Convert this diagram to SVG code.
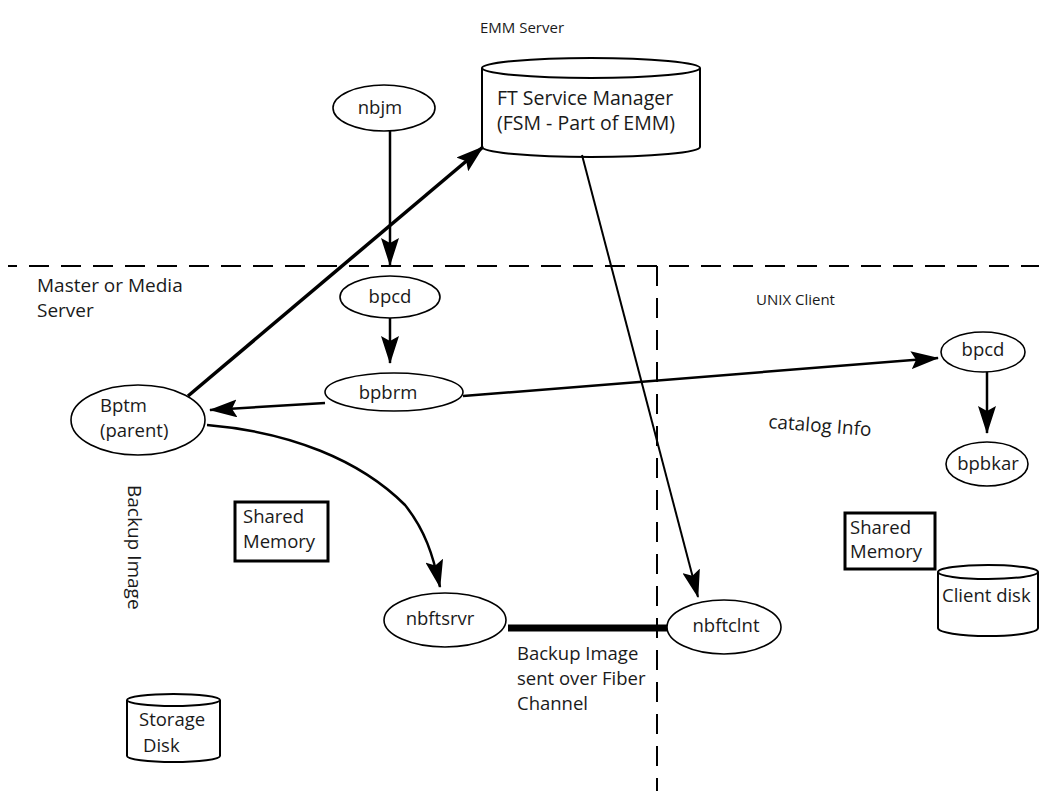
<svg xmlns="http://www.w3.org/2000/svg" width="1039" height="791" viewBox="0 0 1039 791">
<defs>
<marker id="ah" viewBox="0 0 28 18" refX="27" refY="9" markerWidth="28" markerHeight="18" markerUnits="userSpaceOnUse" orient="auto">
<path d="M0,0 L28,9 L0,18 L5,9 z" fill="#000"/>
</marker>
<style>
text{font-family:"Open Sans","Noto Sans",sans-serif;font-size:18.5px;fill:#1a1a1a}
.c{text-anchor:middle}
.node{fill:#fff;stroke:#000;stroke-width:1.6}
.cyl{fill:#fff;stroke:#000;stroke-width:2}
.box{fill:#fff;stroke:#000;stroke-width:3}
.ln{fill:none;stroke:#000;stroke-width:2.5}
.dash{fill:none;stroke:#000;stroke-width:2;stroke-dasharray:20 12}
</style>
</defs>
<rect width="1039" height="791" fill="#fff"/>

<g id="boundaries">
<line class="dash" x1="8" y1="266" x2="1039" y2="266" stroke-dashoffset="11"/>
<line class="dash" x1="657" y1="266" x2="657" y2="791"/>
</g>

<g id="labels">
<text x="522" y="33" class="c" style="font-size:15px">EMM Server</text>
<text x="37" y="292" style="font-size:19px">Master or Media</text>
<text x="37" y="317" style="font-size:19px">Server</text>
<text x="756" y="305" style="font-size:15px">UNIX Client</text>
<text x="768" y="428" transform="rotate(4.5 768 428)" style="font-size:19px">catalog Info</text>
<text x="128" y="485" transform="rotate(90 128 485)" style="font-size:19px">Backup Image</text>
<text x="517" y="660">Backup Image</text>
<text x="517" y="685">sent over Fiber</text>
<text x="517" y="710">Channel</text>
</g>

<g id="fsm">
<path class="cyl" d="M482,68 L482,147 A109,10 0 0 0 700,147 L700,68"/>
<ellipse class="cyl" cx="591" cy="68" rx="109" ry="10"/>
<text x="497" y="105" style="font-size:19.5px">FT Service Manager</text>
<text x="497" y="130" style="font-size:19.5px">(FSM - Part of EMM)</text>
</g>

<g id="nbjm">
<ellipse class="node" cx="384" cy="108" rx="51" ry="23"/>
<text x="380" y="114" class="c">nbjm</text>
</g>

<g id="bpcd-master">
<ellipse class="node" cx="390" cy="297" rx="50" ry="21"/>
<text x="390" y="303" class="c">bpcd</text>
</g>

<g id="bpbrm">
<ellipse class="node" cx="394" cy="392" rx="69" ry="19"/>
<text x="388" y="399" class="c">bpbrm</text>
</g>

<g id="bptm">
<ellipse class="node" cx="138" cy="420" rx="67" ry="35"/>
<text x="100" y="412">Bptm</text>
<text x="100" y="437">(parent)</text>
</g>

<g id="bpcd-client">
<ellipse class="node" cx="983" cy="352" rx="42" ry="20"/>
<text x="983" y="356" class="c">bpcd</text>
</g>

<g id="bpbkar">
<ellipse class="node" cx="987" cy="464" rx="41" ry="22"/>
<text x="988" y="470" class="c">bpbkar</text>
</g>

<g id="shared-memory-master">
<rect class="box" x="235" y="502" width="93" height="59"/>
<text x="243" y="523">Shared</text>
<text x="243" y="548">Memory</text>
</g>

<g id="shared-memory-client">
<rect class="box" x="845" y="513" width="90" height="56"/>
<text x="850" y="534">Shared</text>
<text x="850" y="558">Memory</text>
</g>

<g id="client-disk">
<path class="cyl" d="M938,572 L938,628 A50,8 0 0 0 1038,628 L1038,572"/>
<ellipse class="cyl" cx="988" cy="572" rx="50" ry="7"/>
<text x="942" y="602">Client disk</text>
</g>

<g id="storage-disk">
<path class="cyl" d="M127,700 L127,756 A46.5,6 0 0 0 220,756 L220,700"/>
<ellipse class="cyl" cx="173.5" cy="700" rx="46.5" ry="6"/>
<text x="139" y="726">Storage</text>
<text x="143" y="752">Disk</text>
</g>

<g id="nbftsrvr">
<ellipse class="node" cx="445" cy="620" rx="61" ry="27"/>
<text x="440" y="625" class="c">nbftsrvr</text>
</g>

<g id="nbftclnt">
<ellipse class="node" cx="724" cy="627" rx="57" ry="27"/>
<text x="726" y="632" class="c">nbftclnt</text>
</g>

<g id="connectors">
<line class="ln" x1="390" y1="131" x2="390" y2="265" marker-end="url(#ah)"/>
<line class="ln" x1="390" y1="318" x2="390" y2="363" marker-end="url(#ah)"/>
<line class="ln" x1="325" y1="403" x2="210" y2="410" marker-end="url(#ah)"/>
<line class="ln" x1="463" y1="396" x2="938" y2="358" marker-end="url(#ah)"/>
<line class="ln" x1="987" y1="372" x2="987" y2="433" marker-end="url(#ah)"/>
<line class="ln" x1="188" y1="396" x2="483" y2="147" style="stroke-width:3.5" marker-end="url(#ah)"/>
<line class="ln" x1="582" y1="155" x2="698" y2="597" style="stroke-width:2" marker-end="url(#ah)"/>
<path class="ln" d="M207,425 C290,432 360,460 405,505 C425,530 433,555 440,587" marker-end="url(#ah)"/>
<line x1="508" y1="628" x2="667" y2="628" stroke="#000" stroke-width="7"/>
</g>
</svg>
